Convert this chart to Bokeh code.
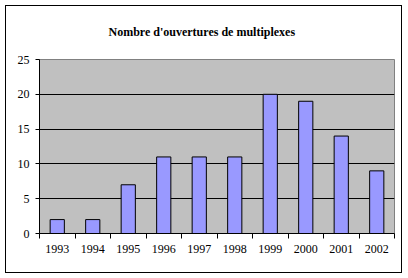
from bokeh.plotting import figure
from bokeh.models import FixedTicker, Range1d
from bokeh.embed import file_html
from bokeh.resources import INLINE

years = [1993, 1994, 1995, 1996, 1997, 1998, 1999, 2000, 2001, 2002]
openings = [2, 2, 7, 11, 11, 11, 20, 19, 14, 9]
y_ticks = [0, 5, 10, 15, 20, 25]
title_text = "Nombre d'ouvertures de multiplexes"

FONT = "Liberation Serif"

p = figure(width=395, height=266, output_backend="svg", toolbar_location=None,
           x_range=Range1d(years[0] - 0.5, years[-1] + 0.5), y_range=Range1d(0, 25),
           min_border_left=33, min_border_right=9, min_border_top=53, min_border_bottom=41,
           title=title_text)
p.margin = (5, 0, 0, 5)
p.styles = {"border": "1px solid black", "box-sizing": "content-box"}
p.background_fill_color = "#C0C0C0"
p.border_fill_color = "white"
p.outline_line_color = "#808080"
p.outline_line_width = 1

p.title.text_font = FONT
p.title.text_font_size = "12px"
p.title.text_font_style = "bold"
p.title.align = "left"
p.title.offset = 69
p.title.standoff = 37
p.title.vertical_align = "top"
p.title.text_color = "black"

p.vbar(x=years, top=openings, width=0.4, fill_color="#9999FF", line_color="black", line_width=1)

boundaries = [y - 0.5 for y in years] + [years[-1] + 0.5]
xa = p.xaxis[0]
xa.ticker = FixedTicker(ticks=years, minor_ticks=boundaries)
xa.major_tick_out = 0
xa.major_tick_in = 0
xa.minor_tick_out = 5
xa.minor_tick_in = 0
xa.minor_tick_line_color = "black"
xa.axis_line_color = "black"
xa.major_label_standoff = 6
xa.major_label_text_font = FONT
xa.major_label_text_font_size = "12px"
xa.major_label_text_color = "black"

ya = p.yaxis[0]
ya.ticker = FixedTicker(ticks=y_ticks)
ya.major_tick_out = 4
ya.major_tick_in = 0
ya.minor_tick_line_color = None
ya.axis_line_color = "black"
ya.major_label_standoff = 6
ya.major_label_text_font = FONT
ya.major_label_text_font_size = "12px"
ya.major_label_text_color = "black"

p.xgrid.grid_line_color = None
p.ygrid.ticker = FixedTicker(ticks=y_ticks)
p.ygrid.grid_line_color = "black"
p.ygrid.grid_line_alpha = 1

open("out.html", "w").write(file_html(p, INLINE))
